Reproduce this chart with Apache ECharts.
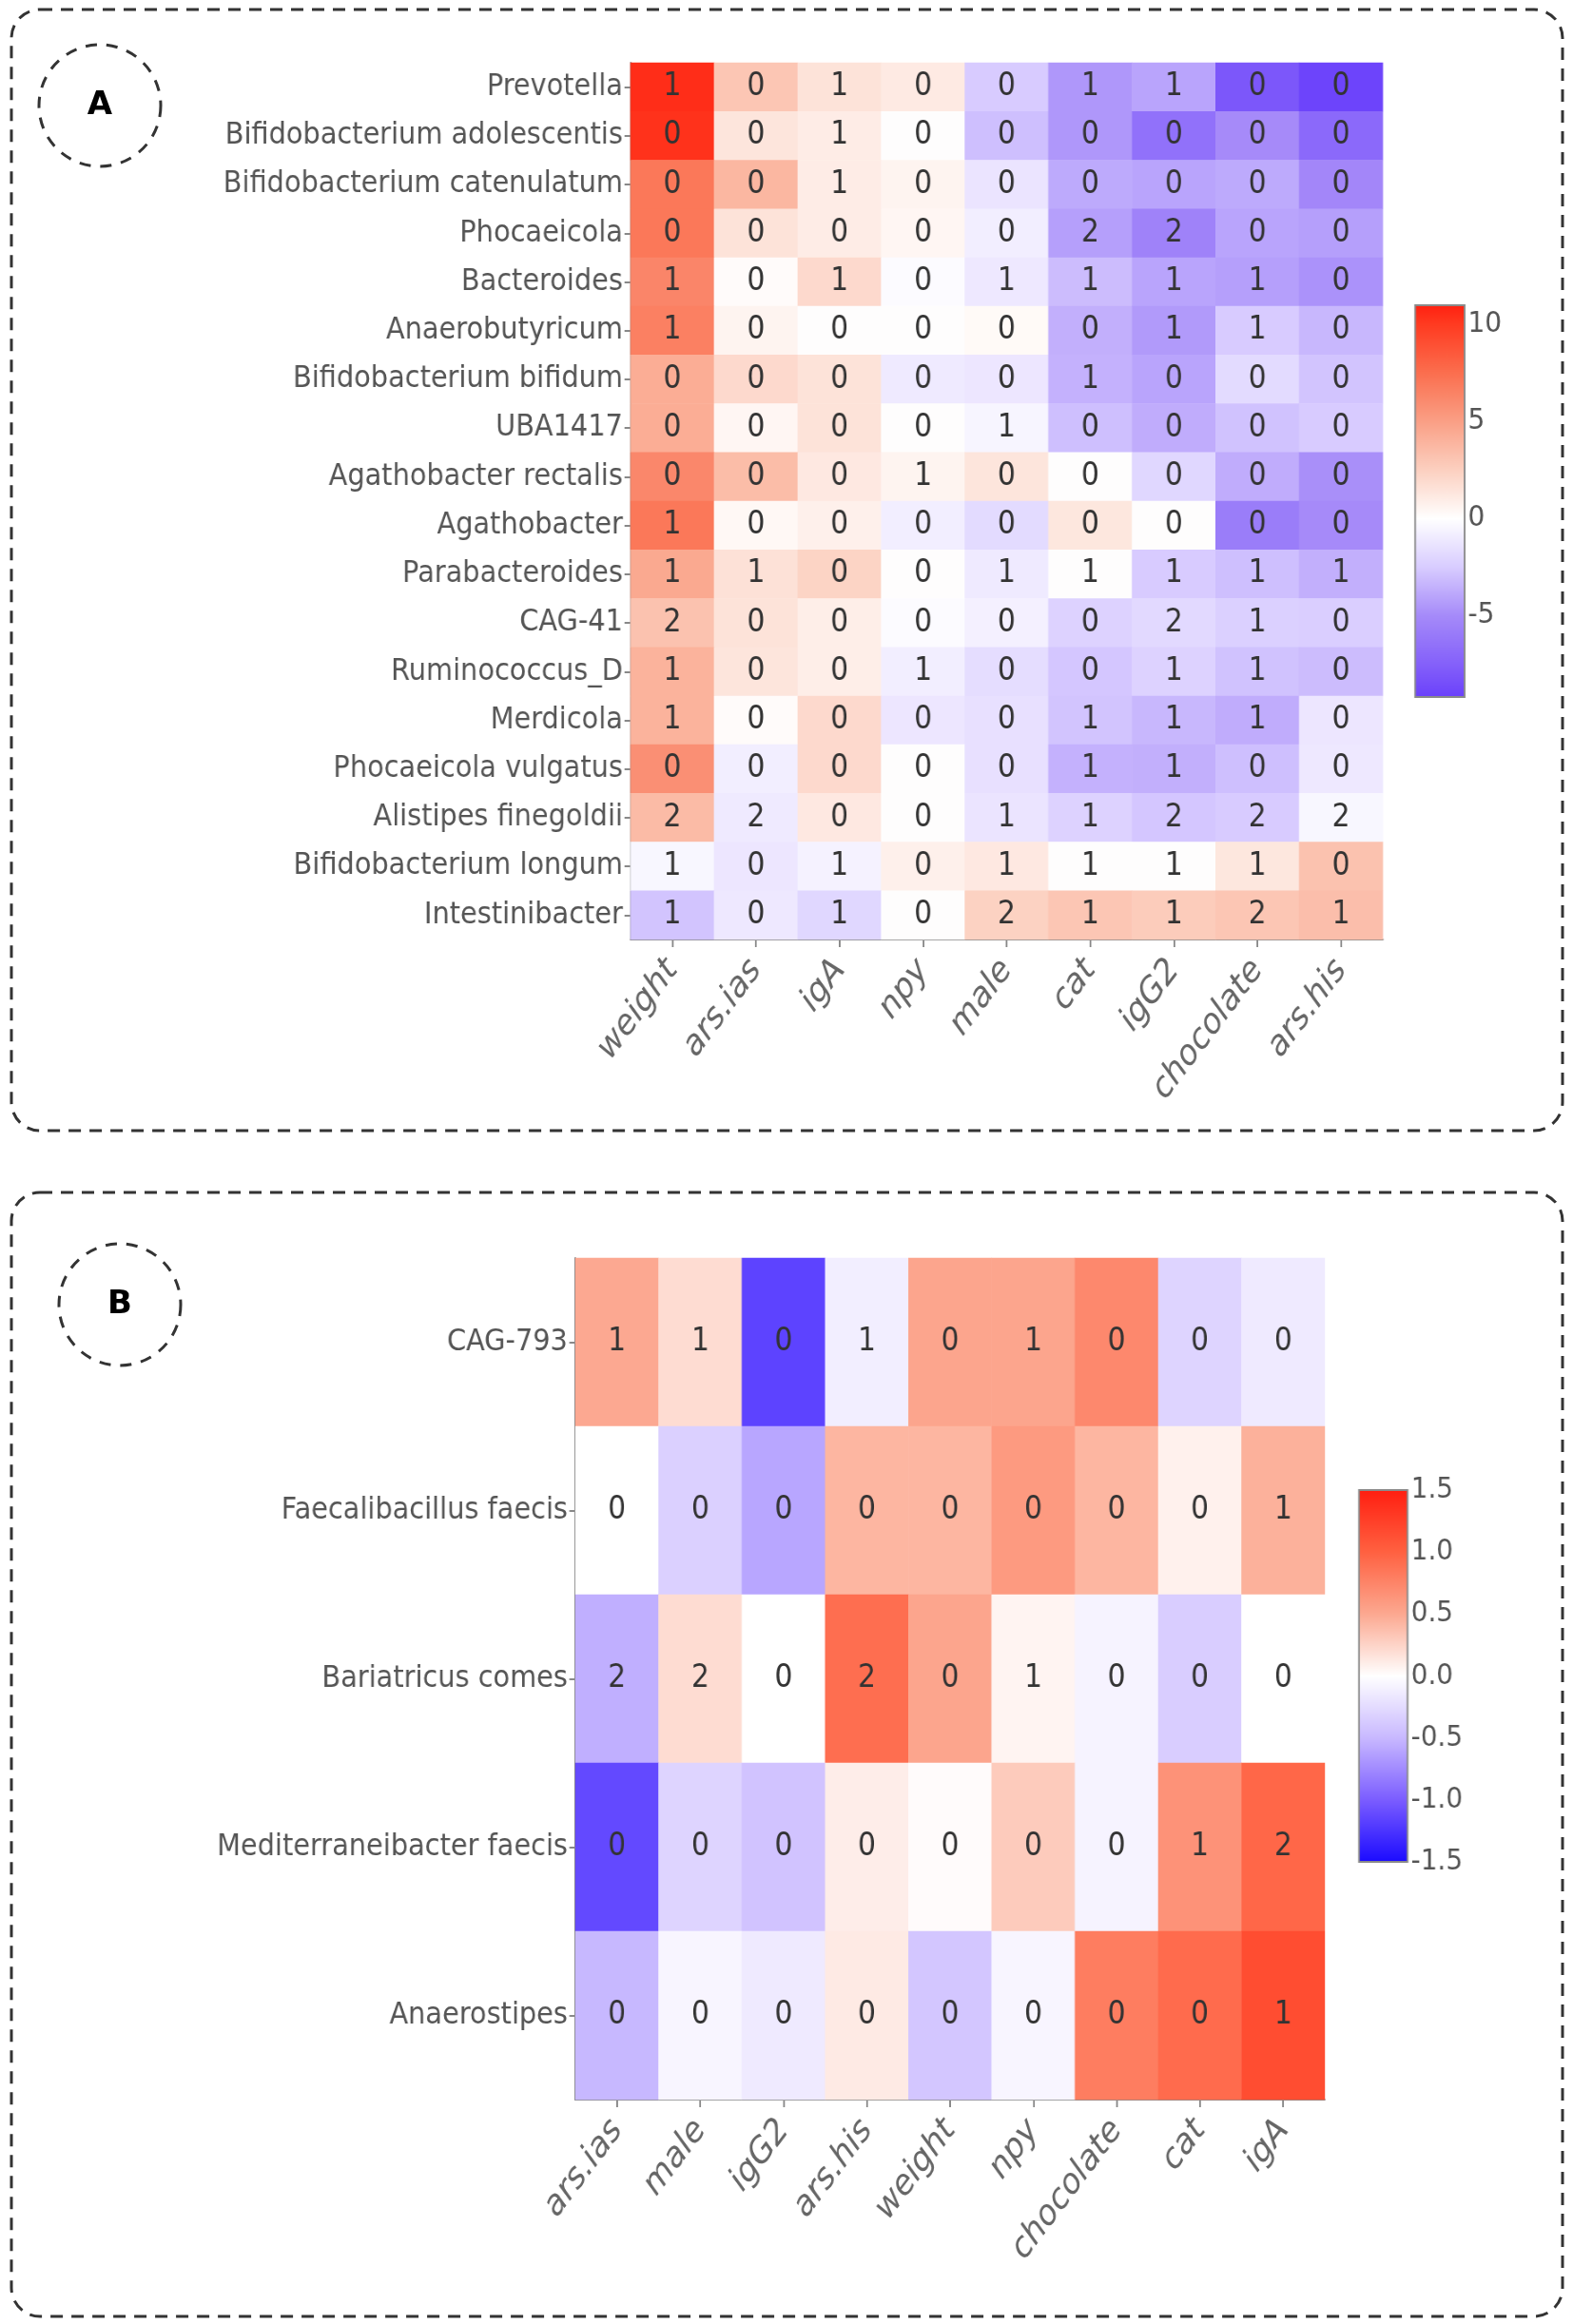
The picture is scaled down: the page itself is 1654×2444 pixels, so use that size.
<!DOCTYPE html>
<html><head><meta charset="utf-8">
<script src="https://cdn.jsdelivr.net/npm/echarts@6/dist/echarts.min.js"></script>
<style>
html,body{margin:0;padding:0;background:#fff;overflow:hidden}
#wrap{position:relative;width:1654px;height:2444px;overflow:hidden}
#c{position:absolute;left:0;top:0;width:1838px;height:2444px;transform:scaleX(0.9);transform-origin:0 0}
#o{position:absolute;left:0;top:0;width:1654px;height:2444px;pointer-events:none}
</style>
</head><body><div id="wrap"><div id="c"></div><div id="o"></div></div>
<script>
// ---------------- data ----------------
const rowsA = ['Prevotella','Bifidobacterium adolescentis','Bifidobacterium catenulatum','Phocaeicola','Bacteroides','Anaerobutyricum','Bifidobacterium bifidum','UBA1417','Agathobacter rectalis','Agathobacter','Parabacteroides','CAG-41','Ruminococcus_D','Merdicola','Phocaeicola vulgatus','Alistipes finegoldii','Bifidobacterium longum','Intestinibacter'];
const colsA = ['weight','ars.ias','igA','npy','male','cat','igG2','chocolate','ars.his'];
const valuesA = [
  [10.5, 3.0, 1.5, 1.1, -2.5, -4.5, -4.0, -8.0, -9.0],
  [10.3, 1.4, 1.0, 0.0, -3.0, -4.5, -6.5, -5.0, -7.0],
  [7.0, 3.8, 1.0, 0.6, -1.3, -3.8, -4.0, -3.8, -5.2],
  [7.0, 1.5, 1.0, 0.5, -0.8, -4.2, -5.5, -4.0, -4.2],
  [6.3, 0.2, 2.0, -0.2, -1.1, -3.1, -4.0, -4.2, -4.7],
  [6.6, 0.6, 0.0, 0.0, 0.3, -3.6, -4.4, -2.5, -3.3],
  [4.3, 2.0, 1.5, -1.0, -1.2, -3.5, -4.0, -1.8, -2.8],
  [4.3, 0.5, 1.5, 0.0, -0.5, -3.0, -3.7, -2.9, -2.5],
  [6.2, 3.5, 1.2, 0.6, 1.4, 0.0, -2.0, -3.7, -4.8],
  [7.0, 0.4, 0.8, -0.8, -1.8, 1.3, 0.0, -5.8, -5.0],
  [4.5, 1.6, 2.3, 0.0, -1.0, 0.0, -2.5, -3.0, -3.6],
  [3.2, 1.5, 0.9, -0.2, -0.7, -2.2, -1.9, -2.3, -2.4],
  [4.0, 1.4, 0.9, -0.8, -1.7, -2.7, -2.2, -2.9, -3.1],
  [4.0, 0.2, 2.0, -1.2, -1.5, -2.8, -3.3, -3.7, -1.2],
  [5.8, -0.8, 2.0, 0.0, -1.5, -3.5, -3.6, -3.0, -1.1],
  [3.6, -1.0, 1.2, 0.0, -1.3, -2.2, -2.7, -2.5, -0.4],
  [-0.4, -1.2, -0.6, 0.8, 1.2, 0.0, 0.0, 1.3, 3.2],
  [-2.8, -1.1, -2.0, 0.0, 2.4, 3.0, 2.7, 3.0, 3.4]
];
const labelsA = [
  [1,0,1,0,0,1,1,0,0],
  [0,0,1,0,0,0,0,0,0],
  [0,0,1,0,0,0,0,0,0],
  [0,0,0,0,0,2,2,0,0],
  [1,0,1,0,1,1,1,1,0],
  [1,0,0,0,0,0,1,1,0],
  [0,0,0,0,0,1,0,0,0],
  [0,0,0,0,1,0,0,0,0],
  [0,0,0,1,0,0,0,0,0],
  [1,0,0,0,0,0,0,0,0],
  [1,1,0,0,1,1,1,1,1],
  [2,0,0,0,0,0,2,1,0],
  [1,0,0,1,0,0,1,1,0],
  [1,0,0,0,0,1,1,1,0],
  [0,0,0,0,0,1,1,0,0],
  [2,2,0,0,1,1,2,2,2],
  [1,0,1,0,1,1,1,1,0],
  [1,0,1,0,2,1,1,2,1]
];
const rangeA = [-9.2, 11];
const ticksA = [-5, 0, 5, 10];

const rowsB = ['CAG-793','Faecalibacillus faecis','Bariatricus comes','Mediterraneibacter faecis','Anaerostipes'];
const colsB = ['ars.ias','male','igG2','ars.his','weight','npy','chocolate','cat','igA'];
const valuesB = [
  [0.50, 0.20, -1.15, -0.12, 0.52, 0.52, 0.72, -0.30, -0.15],
  [0.00, -0.33, -0.60, 0.42, 0.42, 0.60, 0.42, 0.08, 0.45],
  [-0.55, 0.20, 0.00, 0.90, 0.52, 0.06, -0.08, -0.35, 0.00],
  [-1.12, -0.30, -0.42, 0.10, 0.02, 0.30, -0.08, 0.65, 0.95],
  [-0.50, -0.07, -0.15, 0.12, -0.40, -0.07, 0.80, 0.92, 1.15]
];
const labelsB = [
  [1,1,0,1,0,1,0,0,0],
  [0,0,0,0,0,0,0,0,1],
  [2,2,0,2,0,1,0,0,0],
  [0,0,0,0,0,0,0,1,2],
  [0,0,0,0,0,0,0,0,1]
];
const rangeB = [-1.5, 1.5];
const ticksB = [-1.5, -1, -0.5, 0, 0.5, 1, 1.5];

// ---------------- colour scales (anchor value -> colour) ----------------
const anchorsA = [[-9.2,'#6a40fb'],[-7.5,'#8460fa'],[-5,'#a58af9'],[-2.5,'#d8ccff'],[0,'#ffffff'],[2.5,'#fcd0c0'],[5,'#fa9f85'],[7.5,'#fb6e4e'],[10,'#ff3a20'],[11,'#ff2010']];
const anchorsB = [[-1.5,'#1a0aff'],[-1,'#7a5cff'],[-0.5,'#c8b8ff'],[0,'#ffffff'],[0.5,'#fca890'],[1,'#ff6040'],[1.5,'#ff1e10']];

function hex2rgb(h){return [parseInt(h.slice(1,3),16),parseInt(h.slice(3,5),16),parseInt(h.slice(5,7),16)];}
function colorAt(anchors, v){
  if (v <= anchors[0][0]) return anchors[0][1];
  for (let i=1;i<anchors.length;i++){
    if (v <= anchors[i][0]){
      const a=anchors[i-1], b=anchors[i];
      const t=(v-a[0])/(b[0]-a[0]);
      const ca=hex2rgb(a[1]), cb=hex2rgb(b[1]);
      const c=ca.map((x,k)=>Math.round(x+(cb[k]-x)*t));
      return 'rgb('+c.join(',')+')';
    }
  }
  return anchors[anchors.length-1][1];
}
function evenStops(anchors, range, n){
  const out=[];
  for(let i=0;i<n;i++) out.push(colorAt(anchors, range[0]+(range[1]-range[0])*i/(n-1)));
  return out;
}
function gradStops(anchors, range){
  return anchors.map(a=>({offset:(a[0]-range[0])/(range[1]-range[0]), color:a[1]}));
}
function cells(values, labels){
  const d=[];
  values.forEach((row,r)=>row.forEach((v,c)=>d.push([c,r,v,labels[r][c]])));
  return d;
}

// ---------------- layout (page px; chart canvas is compressed by S horizontally) ----------------
const S = 0.9;
const X = v => v / S;
const FONT = "'DejaVu Sans', sans-serif";

const gA = {left:X(663), top:66, width:X(791), height:922};
const cbA = {left:X(1488), top:321, width:X(52), height:412};
const gB = {left:X(605), top:1323, width:X(788), height:885};
const cbB = {left:X(1429), top:1567, width:X(51), height:391};

const axisLineStyle = {color:'#888', width:2};
function catX(cols, gi){
  return {type:'category', data:cols, gridIndex:gi, position:'bottom',
    axisLine:{show:true, lineStyle:axisLineStyle},
    axisTick:{show:true, alignWithLabel:true, length:8, lineStyle:{color:'#888', width:2}},
    axisLabel:{rotate:50, margin:26, color:'#666', fontSize:37, fontFamily:FONT, fontStyle:'italic', interval:0},
    splitLine:{show:false}};
}
function catY(rows, gi){
  return {type:'category', data:rows, gridIndex:gi, inverse:true,
    axisLine:{show:true, lineStyle:axisLineStyle},
    axisTick:{show:true, alignWithLabel:true, length:7, lineStyle:{color:'#888', width:2}},
    axisLabel:{margin:9, color:'#555', fontSize:32, fontFamily:FONT, interval:0},
    splitLine:{show:false}};
}
function cbY(range, ticks, gi, fmt){
  return {type:'value', gridIndex:gi, min:range[0], max:range[1], position:'right',
    axisLine:{show:false},
    axisTick:{show:true, length:5, customValues:ticks, lineStyle:{color:'#777', width:2}},
    axisLabel:{show:true, customValues:ticks, margin:4, color:'#555', fontSize:31, fontFamily:FONT, formatter:fmt},
    splitLine:{show:false}};
}
function cbX(gi){ return {type:'value', gridIndex:gi, min:0, max:1, show:false}; }

const labelStyle = {show:true, color:'#333', fontSize:33, fontFamily:FONT, formatter:p=>String(p.data[3])};

const option = {
  backgroundColor:'#fff',
  animation:false,
  grid:[
    Object.assign({outerBoundsMode:'none', containLabel:false}, gA),
    Object.assign({outerBoundsMode:'none', containLabel:false}, cbA),
    Object.assign({outerBoundsMode:'none', containLabel:false}, gB),
    Object.assign({outerBoundsMode:'none', containLabel:false}, cbB)
  ],
  xAxis:[catX(colsA,0), cbX(1), catX(colsB,2), cbX(3)],
  yAxis:[catY(rowsA,0), cbY(rangeA,ticksA,1,v=>String(v)), catY(rowsB,2), cbY(rangeB,ticksB,3,v=>v.toFixed(1))],
  visualMap:[
    {type:'continuous', show:false, seriesIndex:0, dimension:2, min:rangeA[0], max:rangeA[1], inRange:{color:evenStops(anchorsA, rangeA, 81)}},
    {type:'continuous', show:false, seriesIndex:1, dimension:2, min:rangeB[0], max:rangeB[1], inRange:{color:evenStops(anchorsB, rangeB, 81)}}
  ],
  series:[
    {type:'heatmap', xAxisIndex:0, yAxisIndex:0, data:cells(valuesA, labelsA), label:labelStyle, emphasis:{disabled:true}, itemStyle:{borderWidth:0}},
    {type:'heatmap', xAxisIndex:2, yAxisIndex:2, data:cells(valuesB, labelsB), label:labelStyle, emphasis:{disabled:true}, itemStyle:{borderWidth:0}}
  ],
  graphic:[
    {type:'rect', z:10, shape:{x:cbA.left, y:cbA.top, width:cbA.width, height:cbA.height},
      style:{fill:new echarts.graphic.LinearGradient(0,1,0,0, gradStops(anchorsA, rangeA)), stroke:'#8a8a8a', lineWidth:2}},
    {type:'rect', z:10, shape:{x:cbB.left, y:cbB.top, width:cbB.width, height:cbB.height},
      style:{fill:new echarts.graphic.LinearGradient(0,1,0,0, gradStops(anchorsB, rangeB)), stroke:'#8a8a8a', lineWidth:2}}
  ]
};
const chart = echarts.init(document.getElementById('c'), null, {renderer:'canvas'});
chart.setOption(option);

// ---------------- frame overlay (panels, badges) ----------------
const dash = {stroke:'#333', lineWidth:3, lineDash:[13,9], fill:'none'};
const circ = {stroke:'#333', lineWidth:3, lineDash:[12,10], fill:'none'};
const over = echarts.init(document.getElementById('o'), null, {renderer:'canvas'});
over.setOption({
  backgroundColor:'transparent',
  animation:false,
  graphic:[
    {type:'rect', shape:{x:12, y:10, width:1631, height:1179, r:30}, style:dash},
    {type:'rect', shape:{x:12, y:1254, width:1631, height:1182, r:30}, style:dash},
    {type:'circle', shape:{cx:105, cy:111, r:64}, style:circ},
    {type:'circle', shape:{cx:126, cy:1372, r:64}, style:circ},
    {type:'text', x:105, y:111, style:{text:'A', font:"bold 34px 'DejaVu Sans'", fill:'#000', align:'center', verticalAlign:'middle'}},
    {type:'text', x:126, y:1372, style:{text:'B', font:"bold 34px 'DejaVu Sans'", fill:'#000', align:'center', verticalAlign:'middle'}}
  ]
});
</script>
</body></html>
